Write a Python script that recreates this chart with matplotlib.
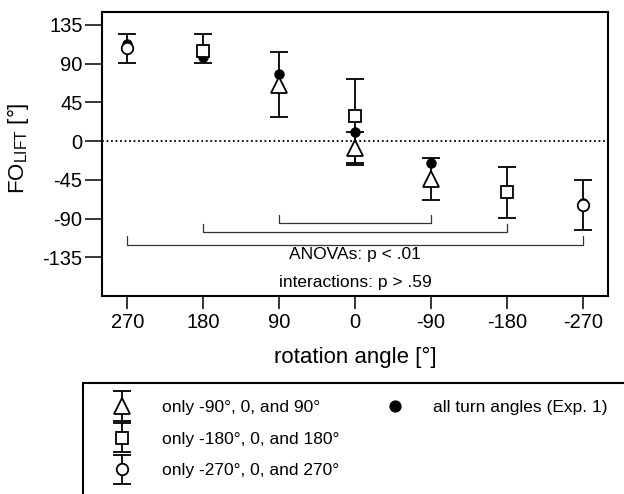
import matplotlib.pyplot as plt
from matplotlib.patches import Rectangle
from matplotlib.container import ErrorbarContainer
from matplotlib.legend_handler import HandlerErrorbar

plt.rcParams['font.family'] = ['Liberation Sans', 'DejaVu Sans']
plt.rcParams['mathtext.fontset'] = 'custom'
plt.rcParams['mathtext.rm'] = 'Liberation Sans'
plt.rcParams['mathtext.it'] = 'Liberation Sans:italic'
plt.rcParams['axes.unicode_minus'] = False

angles = [270, 180, 90, 0, -90, -180, -270]
tick_labels = ['270', '180', '90', '0', '-90', '-180', '-270']
y_ticks = [135, 90, 45, 0, -45, -90, -135]

# only -90°, 0, and 90°
tri_x = [90, 0, -90]
tri_y = [65, -8, -44]
tri_lo = [28, -25, -68]
tri_hi = [103, 10, -20]

# only -180°, 0, and 180°
sq_x = [180, 0, -180]
sq_y = [105, 29, -59]
sq_lo = [91, -28, -89]
sq_hi = [124, 72, -30]

# only -270°, 0, and 270°
circ_x = [270, -270]
circ_y = [108, -74]
circ_lo = [91, -103]
circ_hi = [125, -45]

# all turn angles (Exp. 1)
all_y = [113, 98, 78, 10, -26, -60, -72]

# brackets (left angle, right angle, level, tip height)
brackets = [(90, -90, -95, -86), (180, -180, -105.5, -96), (270, -270, -120.5, -110.5)]

fig = plt.figure(figsize=(6.24, 4.94), dpi=100)
ax = fig.add_axes([0.1635, 0.4008, 0.8109, 0.5749])


def err(y, lo, hi):
    return [[a - b for a, b in zip(y, lo)], [b - a for a, b in zip(y, hi)]]


dots, = ax.plot(angles, all_y, 'o', ms=6.5, color='black', zorder=2, linestyle='none')
style = dict(mfc='white', mec='black', mew=1.3, ecolor='black', elinewidth=1.3,
             capsize=6.5, capthick=1.3, zorder=3, linestyle='none')
e_tri = ax.errorbar(tri_x, tri_y, yerr=err(tri_y, tri_lo, tri_hi), fmt='^', ms=11, **style)
e_sq = ax.errorbar(sq_x, sq_y, yerr=err(sq_y, sq_lo, sq_hi), fmt='s', ms=8, **style)
e_circ = ax.errorbar(circ_x, circ_y, yerr=err(circ_y, circ_lo, circ_hi), fmt='o', ms=8.3, **style)

ax.axhline(0, color='black', lw=1.3, linestyle=(0, (1, 1.5)), zorder=1)

for x1, x2, lvl, tip in brackets:
    ax.plot([x1, x1, x2, x2], [tip, lvl, lvl, tip], color='#333333', lw=0.9, zorder=1)

ax.text(0, -132, 'ANOVAs: p < .01', ha='center', va='center', fontsize=12.5)
ax.text(0, -164, 'interactions: p > .59', ha='center', va='center', fontsize=12.5)

ax.set_xlim(300, -300)
ax.set_ylim(-180, 150)
ax.set_xticks(angles)
ax.set_xticklabels(tick_labels)
ax.set_yticks(y_ticks)
ax.tick_params(direction='out', width=1.1, labelsize=14.5)
ax.tick_params(axis='x', length=9, pad=3)
ax.tick_params(axis='y', length=12, pad=2)
for sp in ax.spines.values():
    sp.set_linewidth(1.5)

ax.set_xlabel('rotation angle [°]', fontsize=16, labelpad=11)
ax.set_ylabel('FO$_{\\mathrm{LIFT}}$ [°]', fontsize=16)
ax.yaxis.set_label_coords(-0.141, 0.52)

# legend frame runs off the page
fig.add_artist(Rectangle((83 / 624, -0.2), 1.0, 0.2 + (1 - 383 / 494), transform=fig.transFigure,
                         fill=False, lw=1.5, edgecolor='black'))

hmap = {ErrorbarContainer: HandlerErrorbar(yerr_size=0.85)}
fig.legend([e_tri, e_sq, e_circ],
           ['only -90°, 0, and 90°', 'only -180°, 0, and 180°', 'only -270°, 0, and 270°'],
           loc='upper left', bbox_to_anchor=(113 / 624, 1 - 400 / 494), frameon=False,
           fontsize=12.5, handlelength=1.0, handletextpad=1.8, labelspacing=0.95,
           borderpad=0, borderaxespad=0, handler_map=hmap)
fig.legend([dots], ['all turn angles (Exp. 1)'],
           loc='upper left', bbox_to_anchor=(386 / 624, 1 - 400 / 494), frameon=False,
           fontsize=12.5, handlelength=1.0, handletextpad=1.7, markerscale=1.2,
           borderpad=0, borderaxespad=0)

fig.savefig('out.png', dpi=100)
